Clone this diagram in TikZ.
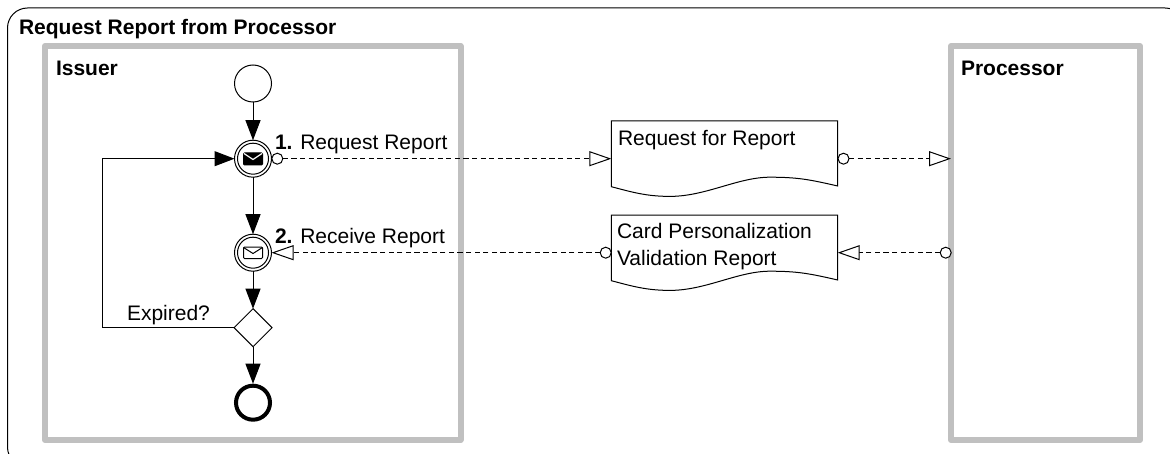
\documentclass[tikz,border=0pt]{standalone}
\usepackage{fontspec}
\setmainfont{Liberation Sans}
\usetikzlibrary{arrows.meta,shapes.geometric}
\definecolor{lanegray}{HTML}{C0C0C0}
\tikzset{
  thin line/.style={line width=0.5pt,draw=black},
  laneframe/.style={draw=lanegray,line width=3pt,line join=round,rectangle,inner sep=0pt,outer sep=0pt},
  evt/.style={circle,thin line,fill=white,inner sep=0pt,outer sep=0pt,minimum size=18.5pt},
  endevt/.style={circle,draw=black,line width=2pt,fill=white,inner sep=0pt,outer sep=1pt,minimum size=17pt},
  gate/.style={diamond,thin line,fill=white,inner sep=0pt,outer sep=0pt,minimum width=19pt,minimum height=19pt},
  port/.style={circle,thin line,fill=white,inner sep=0pt,outer sep=0pt,minimum size=5.5pt},
  docbox/.style={rectangle,inner sep=0pt,outer sep=0pt,minimum width=113.2pt,minimum height=37.7pt},
  seq/.style={thin line,-{Triangle[length=10pt,width=7.5pt]}},
  msg/.style={thin line,dash pattern=on 2.6pt off 1.7pt,-{Triangle[open,fill=white,length=11pt,width=7.5pt,line width=0.5pt]}},
  txt/.style={anchor=base west,inner sep=0pt,outer sep=0pt,font=\fontsize{10.5}{12}\selectfont},
  btxt/.style={txt,font=\fontsize{10.5}{12}\selectfont\bfseries},
}
\newcommand{\docoutline}[1]{%
  \draw[thin line,fill=white] (#1.north west) -- (#1.north east) -- ([yshift=5.2pt]#1.south east)
    .. controls ++(-14pt,3.2pt) and ++(14pt,0pt) .. ([xshift=79.3pt,yshift=9.6pt]#1.south west)
    .. controls ++(-16pt,0pt) and ++(18pt,0pt) .. ([xshift=29.3pt,yshift=0pt]#1.south west)
    .. controls ++(-12pt,0pt) and ++(10pt,-2.6pt) .. ([yshift=4.85pt]#1.south west)
    -- cycle;}
\begin{document}
\begin{tikzpicture}[x=0.5pt,y=-0.5pt]
\useasboundingbox (0,0) rectangle (1170,454);
\clip (0,0) rectangle (1170,454);
% process frame
\draw[line width=0.5pt,rounded corners=10pt] (7.5,8) rectangle (1185,467);
\node[btxt] (title) at (19,35) {Request Report from Processor};
% lanes
\node[laneframe,minimum width=207.75pt,minimum height=197pt] (issuer) at (252.75,243) {};
\node[laneframe,minimum width=94.5pt,minimum height=197pt] (proc) at (1045.5,243) {};
\node[btxt] (issuerlabel) at (56,76) {Issuer};
\node[btxt] (proclabel) at (961,76) {Processor};
% documents
\node[docbox] (doc1) at (724.5,158.7) {};
\node[docbox] (doc2) at (724.5,252.7) {};
\docoutline{doc1}
\docoutline{doc2}
\node[txt] (doc1text) at (618,145.5) {Request for Report};
\node[txt,align=left] (doc2texta) at (617,238.5) {Card Personalization};
\node[txt,align=left] (doc2textb) at (617,265) {Validation Report};
% flow nodes
\node[evt] (start) at (253,83.5) {};
\node[evt] (ev1) at (253,158.7) {};
\node[evt] (ev2) at (253,252.7) {};
\node[gate] (gw) at (253,327.7) {};
\node[endevt] (finish) at (253,402.7) {};
\draw[thin line] (ev1) circle[radius=7.75pt];
\draw[thin line] (ev2) circle[radius=7.75pt];
% envelopes
\draw[fill=black,draw=black,line width=0.5pt,rounded corners=0.5pt] (243.5,153) rectangle (262.5,165);
\draw[white,line width=0.6pt] (244,153.5) -- (253,159.5) -- (262,153.5);
\draw[thin line,fill=white,rounded corners=0.5pt] (243.5,247) rectangle (262.5,258.5);
\draw[thin line] (243.5,247.5) -- (253,253.5) -- (262.5,247.5);
% ports
\node[port] (p1) at (277.3,158.7) {};
\node[port] (p2) at (843.5,158.7) {};
\node[port] (p3) at (605.7,252.7) {};
\node[port] (p4) at (945.7,252.7) {};
\coordinate (procin) at (951,158.7);
\coordinate (bend1) at (102,327.7);
\coordinate (bend2) at (102,158.7);
% sequence flows
\draw[seq] (start) -- (ev1);
\draw[seq] (ev1) -- (ev2);
\draw[seq] (ev2) -- (gw);
\draw[seq] (gw) -- (finish);
\draw[seq] (gw.west) -- (bend1) -- (bend2) -- (ev1.west);
% message flows
\draw[msg] (p1) -- (doc1.west);
\draw[msg] (p2) -- (procin);
\draw[msg] (p3) -- (ev2.east);
\draw[msg] (p4) -- (doc2.east);
% labels
\node[txt] (lab1) at (275,150) {\textbf{1.} Request Report};
\node[txt] (lab2) at (275,243) {\textbf{2.} Receive Report};
\node[txt] (labx) at (127,320.5) {Expired?};
\end{tikzpicture}
\end{document}
